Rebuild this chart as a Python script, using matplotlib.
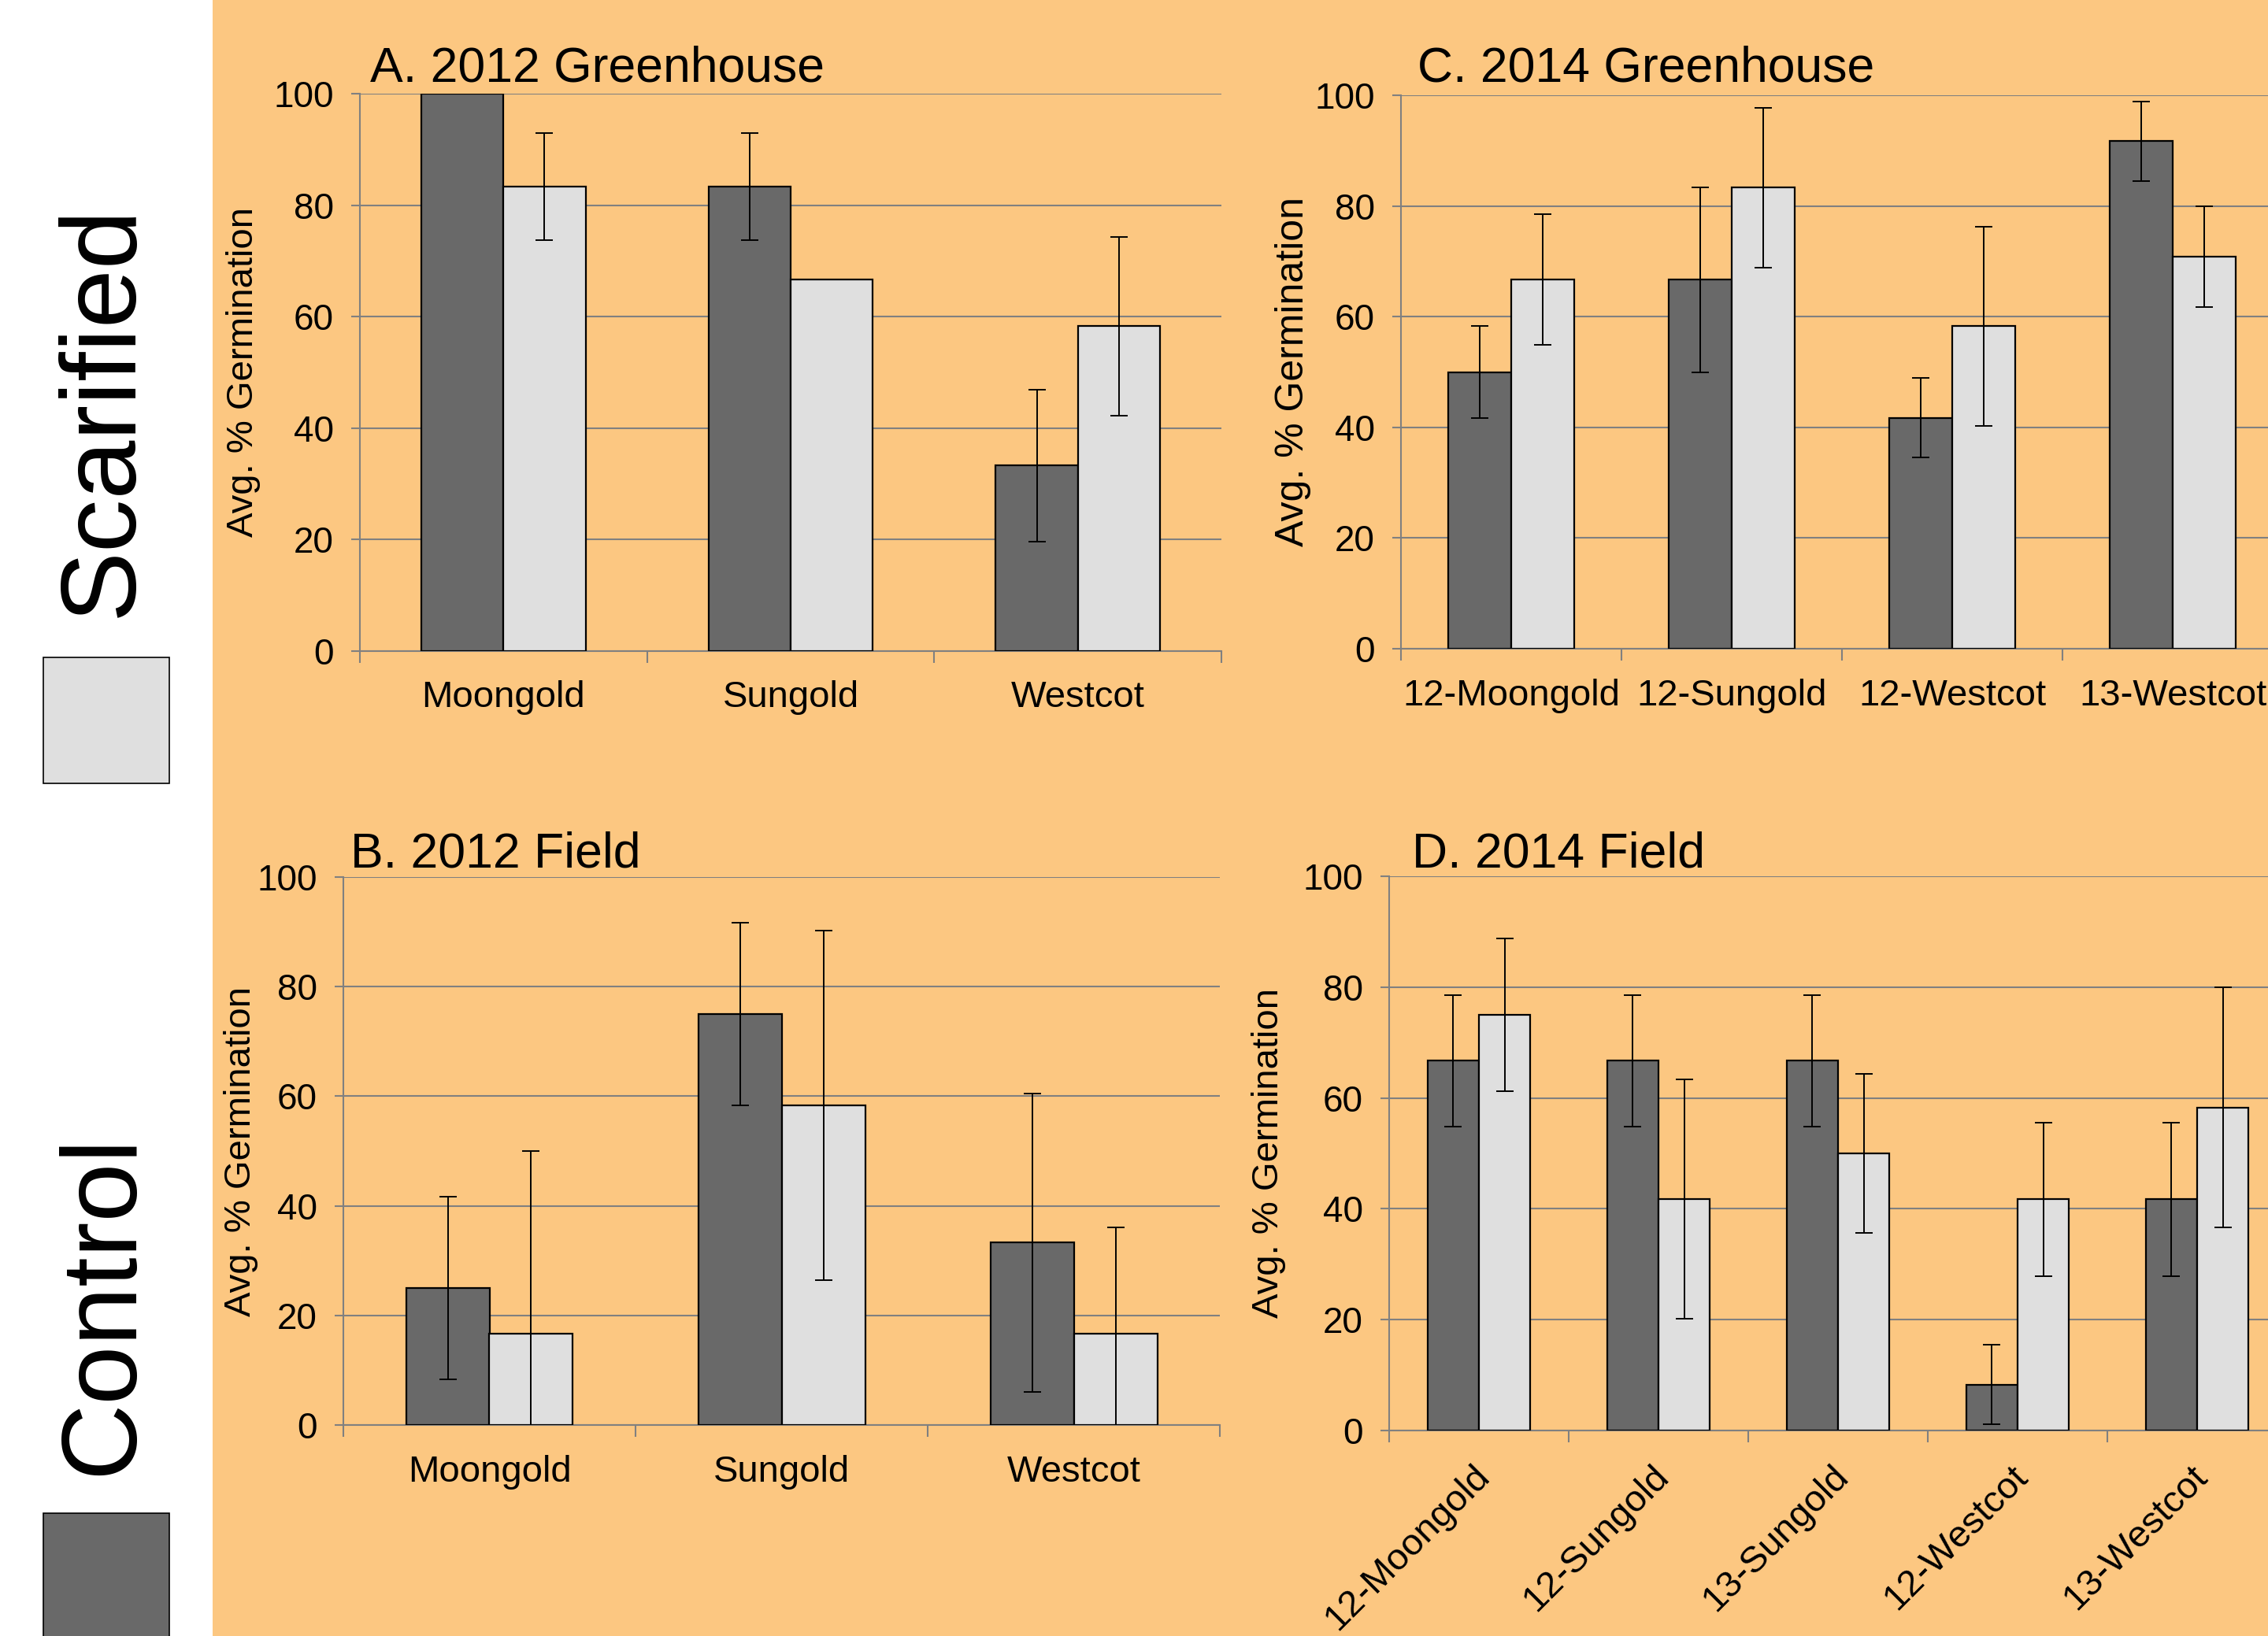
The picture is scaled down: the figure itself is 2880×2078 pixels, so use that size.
import numpy as np
import matplotlib
matplotlib.use('Agg')
import matplotlib.pyplot as plt
import matplotlib.transforms as mtransforms
from matplotlib.patches import Rectangle

plt.rcParams['font.family'] = ['Liberation Sans', 'DejaVu Sans']

ORANGE = '#FCC781'
DARK = '#696969'
LIGHT = '#DFDFDF'
GRID = '#808080'

# A. 2012 Greenhouse
cats_a = ['Moongold', 'Sungold', 'Westcot']
ctrl_a = [100, 83.3, 33.3]
ctrl_a_err = [0, 9.6, 13.6]
scar_a = [83.3, 66.7, 58.3]
scar_a_err = [9.6, 0, 16.0]

# B. 2012 Field
cats_b = ['Moongold', 'Sungold', 'Westcot']
ctrl_b = [25.0, 75.0, 33.3]
ctrl_b_err = [16.7, 16.7, 27.2]
scar_b = [16.7, 58.3, 16.7]
scar_b_err = [33.3, 31.9, 19.3]

# C. 2014 Greenhouse
cats_c = ['12-Moongold', '12-Sungold', '12-Westcot', '13-Westcot']
ctrl_c = [50.0, 66.7, 41.7, 91.7]
ctrl_c_err = [8.3, 16.7, 7.2, 7.2]
scar_c = [66.7, 83.3, 58.3, 70.8]
scar_c_err = [11.8, 14.4, 18.0, 9.1]

# D. 2014 Field
cats_d = ['12-Moongold', '12-Sungold', '13-Sungold', '12-Westcot', '13-Westcot']
ctrl_d = [66.7, 66.7, 66.7, 8.3, 41.7]
ctrl_d_err = [11.8, 11.8, 11.8, 7.2, 13.8]
scar_d = [75.0, 41.7, 50.0, 41.7, 58.3]
scar_d_err = [13.8, 21.6, 14.4, 13.8, 21.7]

W, H = 2880, 2078


def rect(l, t, r, b):
    # pixel box -> figure fraction [left, bottom, width, height]
    return [l / W, 1 - b / H, (r - l) / W, (b - t) / H]


def panel(ax, title, cats, ctrl, ctrl_err, scar, scar_err, title_off, ylab_x,
          ylab_size=34, rot=0):
    x = np.arange(len(cats)) + 0.5
    w = 1 / 3.5
    ax.set_facecolor('none')
    ax.bar(x - w / 2, ctrl, w, color=DARK, edgecolor='black', linewidth=1.6, zorder=3)
    ax.bar(x + w / 2, scar, w, color=LIGHT, edgecolor='black', linewidth=1.6, zorder=3)
    ax.errorbar(x - w / 2, ctrl, yerr=ctrl_err, fmt='none', ecolor='black',
                elinewidth=1.4, capsize=8, capthick=1.4, zorder=4)
    ax.errorbar(x + w / 2, scar, yerr=scar_err, fmt='none', ecolor='black',
                elinewidth=1.4, capsize=8, capthick=1.4, zorder=4)
    ax.set_xlim(0, len(cats))
    ax.set_ylim(0, 100)
    ax.set_yticks(range(0, 101, 20))
    ax.yaxis.grid(True, color=GRID, linewidth=1.5)
    ax.set_axisbelow(True)
    for s in ['top', 'right']:
        ax.spines[s].set_visible(False)
    for s in ['left', 'bottom']:
        ax.spines[s].set_color(GRID)
        ax.spines[s].set_linewidth(1.5)
    ax.set_xticks(range(len(cats) + 1))
    ax.set_xticklabels([])
    ax.set_xticks(x, minor=True)
    if rot:
        labs = ax.set_xticklabels(cats, minor=True, fontsize=34, rotation=45,
                                  ha='right', va='top', rotation_mode='anchor')
        ax.tick_params(axis='x', which='minor', length=0, pad=26)
        shift = mtransforms.ScaledTranslation(-9 / 100, 0, fig.dpi_scale_trans)
        for t in labs:
            t.set_transform(t.get_transform() + shift)
    else:
        ax.set_xticklabels(cats, minor=True, fontsize=34)
        ax.tick_params(axis='x', which='minor', length=0, pad=27)
    ax.tick_params(axis='x', which='major', length=11, width=1.5, color=GRID)
    ax.tick_params(axis='y', length=8, width=1.5, color=GRID, labelsize=33, pad=16)
    ax.set_ylabel('Avg. % Germination', fontsize=ylab_size)
    ax.yaxis.set_label_coords(ylab_x, 0.5)
    ax.annotate(title, xy=(0, 1), xycoords='axes fraction',
                xytext=(title_off[0] * 0.72, title_off[1] * 0.72),
                textcoords='offset points', fontsize=45, va='baseline', ha='left')


fig = plt.figure(figsize=(W / 100, H / 100), dpi=100)
fig.patch.set_facecolor(ORANGE)
fig.patches.append(Rectangle((0, 0), 270 / W, 1, transform=fig.transFigure,
                             facecolor='white', edgecolor='none', zorder=0))

ax_a = fig.add_axes(rect(457, 119, 1551, 827))
ax_c = fig.add_axes(rect(1779, 121, 1779 + 1120, 824))
ax_b = fig.add_axes(rect(436, 1114, 1549, 1810))
ax_d = fig.add_axes(rect(1764, 1113, 1764 + 1140, 1817))

panel(ax_a, 'A. 2012 Greenhouse', cats_a, ctrl_a, ctrl_a_err, scar_a, scar_a_err,
      (13, 15), -0.115)
panel(ax_b, 'B. 2012 Field', cats_b, ctrl_b, ctrl_b_err, scar_b, scar_b_err,
      (9, 13), -0.097)
panel(ax_c, 'C. 2014 Greenhouse', cats_c, ctrl_c, ctrl_c_err, scar_c, scar_c_err,
      (21, 17), -0.102, ylab_size=36)
panel(ax_d, 'D. 2014 Field', cats_d, ctrl_d, ctrl_d_err, scar_d, scar_d_err,
      (29, 12), -0.1145, rot=45)

# side legend
fig.text(132 / W, 1 - 522 / H, 'Scarified', rotation=90, fontsize=97,
         ha='center', va='center')
fig.text(132 / W, 1 - 1657 / H, 'Control', rotation=90, fontsize=97,
         ha='center', va='center')
fig.patches.append(Rectangle((55 / W, 1 - 995 / H), 160 / W, 160 / H,
                             transform=fig.transFigure, facecolor=LIGHT,
                             edgecolor='black', linewidth=1.2))
fig.patches.append(Rectangle((55 / W, 1 - 2100 / H), 160 / W, 178 / H,
                             transform=fig.transFigure, facecolor=DARK,
                             edgecolor='black', linewidth=1.2))

fig.savefig('out.png', dpi=100, facecolor=fig.get_facecolor())
